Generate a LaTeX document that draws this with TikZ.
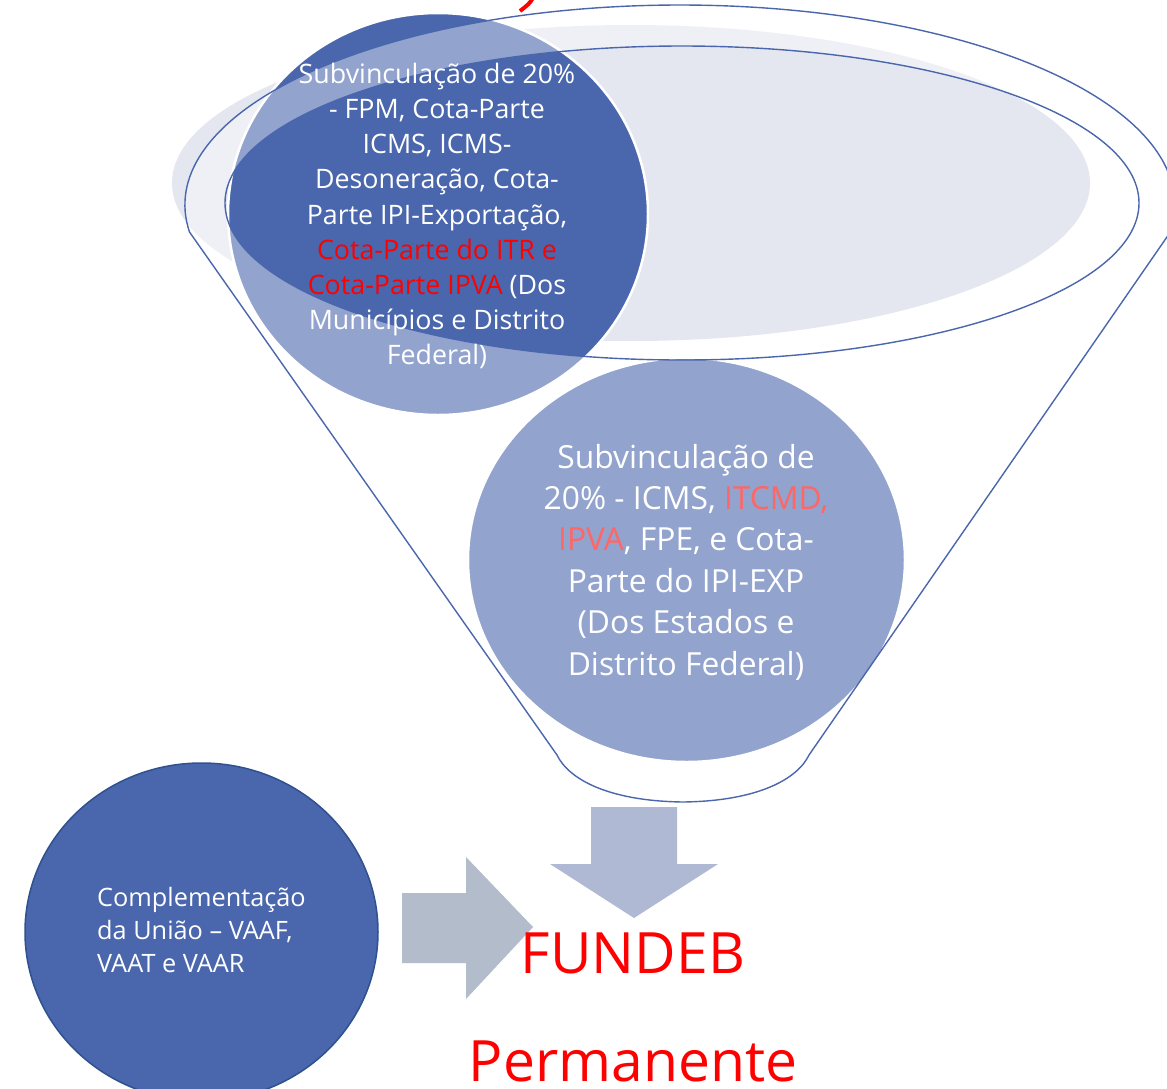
\documentclass[tikz,border=0pt]{standalone}
\usepackage{fontspec}
\setmainfont{Open Sans}
\usetikzlibrary{shapes.geometric}
\definecolor{dblue}{HTML}{4A66AC}
\definecolor{grayell}{HTML}{E4E7F0}
\definecolor{lightred}{HTML}{FF6666}
\definecolor{downarrow}{HTML}{B0B9D3}
\definecolor{rightarrow}{HTML}{B3BCCB}
\definecolor{c3border}{HTML}{2F528F}
\begin{document}
\begin{tikzpicture}[x=1pt,y=1pt,
  bubble/.style={ellipse, fill=dblue, draw=white, line width=2.5pt, inner sep=0pt},
  sidebubble/.style={ellipse, fill=dblue, draw=c3border, line width=1.5pt, inner sep=0pt},
  funnelline/.style={draw=dblue, line width=1.4pt},
  txt/.style={text=white, align=center, inner sep=0pt},
  bigred/.style={text=red, inner sep=0pt, font=\fontsize{57}{66}\selectfont}]
\useasboundingbox (0,0) rectangle (1167,-1088);
\clip (0,0) rectangle (1167,-1088);
\fill[white] (0,0) rectangle (1167,-1088);
% fragment of a cut-off red title
\draw[red, line width=4pt] (533,2) .. controls (529,-4) .. (520,-11);
% rim shadow ellipse
\fill[grayell] (631,-183) ellipse [x radius=459pt, y radius=158pt];
% circles inside funnel
\node[bubble, minimum width=420pt, minimum height=402pt] (c1) at (438,-214) {};
\node[bubble, minimum width=437pt, minimum height=404pt] (c2) at (686.5,-560) {};
% translucent funnel body with open mouth
\fill[white, fill opacity=0.4, even odd rule]
  (189.5,-232) arc[start angle=187.76, end angle=-7.76, x radius=495pt, y radius=200pt]
  -- (809,-755) .. controls (798,-778) and (760,-801) .. (683,-802)
  .. controls (606,-801) and (568,-778) .. (557,-755) -- cycle
  (682,-203) ellipse [x radius=457pt, y radius=157pt];
% funnel outlines
\draw[funnelline]
  (189.5,-232) arc[start angle=187.76, end angle=-7.76, x radius=495pt, y radius=200pt]
  -- (809,-755) .. controls (798,-778) and (760,-801) .. (683,-802)
  .. controls (606,-801) and (568,-778) .. (557,-755) -- cycle;
\draw[funnelline] (682,-203) ellipse [x radius=457pt, y radius=157pt];
% side circle
\node[sidebubble, minimum width=353pt, minimum height=338pt] (c3) at (201.5,-932) {};
% arrows
\fill[downarrow] (591,-807) -- (677,-807) -- (677,-864) -- (718,-864) -- (634,-918)
  -- (550,-864) -- (591,-864) -- cycle;
\fill[rightarrow] (402,-893) -- (466,-893) -- (466,-857) -- (533,-927) -- (466,-999)
  -- (466,-963) -- (402,-963) -- cycle;
% texts
\node[txt, font=\fontsize{26.8}{35.1}\selectfont] (t1) at (437,-216)
  {Subvinculação de 20\%\\- FPM, Cota-Parte\\ICMS, ICMS-\\Desoneração, Cota-\\Parte IPI-Exportação,\\\textcolor{red}{Cota-Parte do ITR e}\\\textcolor{red}{Cota-Parte IPVA} (Dos\\Municípios e Distrito\\Federal)};
\node[txt, font=\fontsize{31.8}{41.4}\selectfont] (t2) at (686,-562)
  {Subvinculação de\\20\% - ICMS, \textcolor{lightred}{ITCMD,}\\\textcolor{lightred}{IPVA}, FPE, e Cota-\\Parte do IPI-EXP\\(Dos Estados e\\Distrito Federal)};
\node[txt, align=left, anchor=west, font=\fontsize{25.3}{33}\selectfont] (t3) at (97,-929.5)
  {Complementação\\da União – VAAF,\\VAAT e VAAR};
\node[bigred, anchor=base] (f1) at (633,-973) {FUNDEB};
\node[bigred, anchor=base] (f2) at (633,-1081) {Permanente};
\end{tikzpicture}
\end{document}
